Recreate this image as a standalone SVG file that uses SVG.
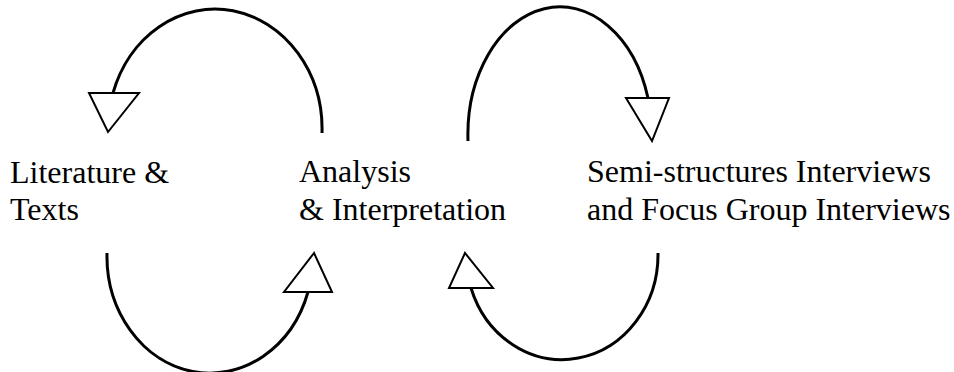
<svg xmlns="http://www.w3.org/2000/svg" width="954" height="372" viewBox="0 0 954 372">
<style>
.arc{fill:none;stroke:#000;stroke-width:3}
.head{fill:#fff;stroke:#000;stroke-width:2;stroke-linejoin:miter}
.lbl{font-family:"Liberation Serif","Times New Roman",serif;font-size:32px;fill:#000}
</style>
<rect width="954" height="372" fill="#fff"/>
<g id="connectors">
<path class="arc" d="M322,133 A107,120 0 0 0 113,93"/>
<polygon class="head" points="89,93 139,93 108,132"/>
<path class="arc" d="M468,141 A92,128 0 0 1 648,98"/>
<polygon class="head" points="626,98 669,98 652,141"/>
<path class="arc" d="M107,253 A103,117 0 0 0 308,292"/>
<polygon class="head" points="314,253 284,292 332,292"/>
<path class="arc" d="M658,253 A96,105 0 0 1 471,288"/>
<polygon class="head" points="465,253 449,288 493,288"/>
</g>
<g id="literature">
<text class="lbl" x="10" y="183">Literature &amp;</text>
<text class="lbl" x="10" y="220">Texts</text>
</g>
<g id="analysis">
<text class="lbl" x="299" y="182">Analysis</text>
<text class="lbl" x="299" y="220">&amp; Interpretation</text>
</g>
<g id="interviews">
<text class="lbl" x="587" y="182">Semi-structures Interviews</text>
<text class="lbl" x="587" y="220">and Focus Group Interviews</text>
</g>
</svg>
